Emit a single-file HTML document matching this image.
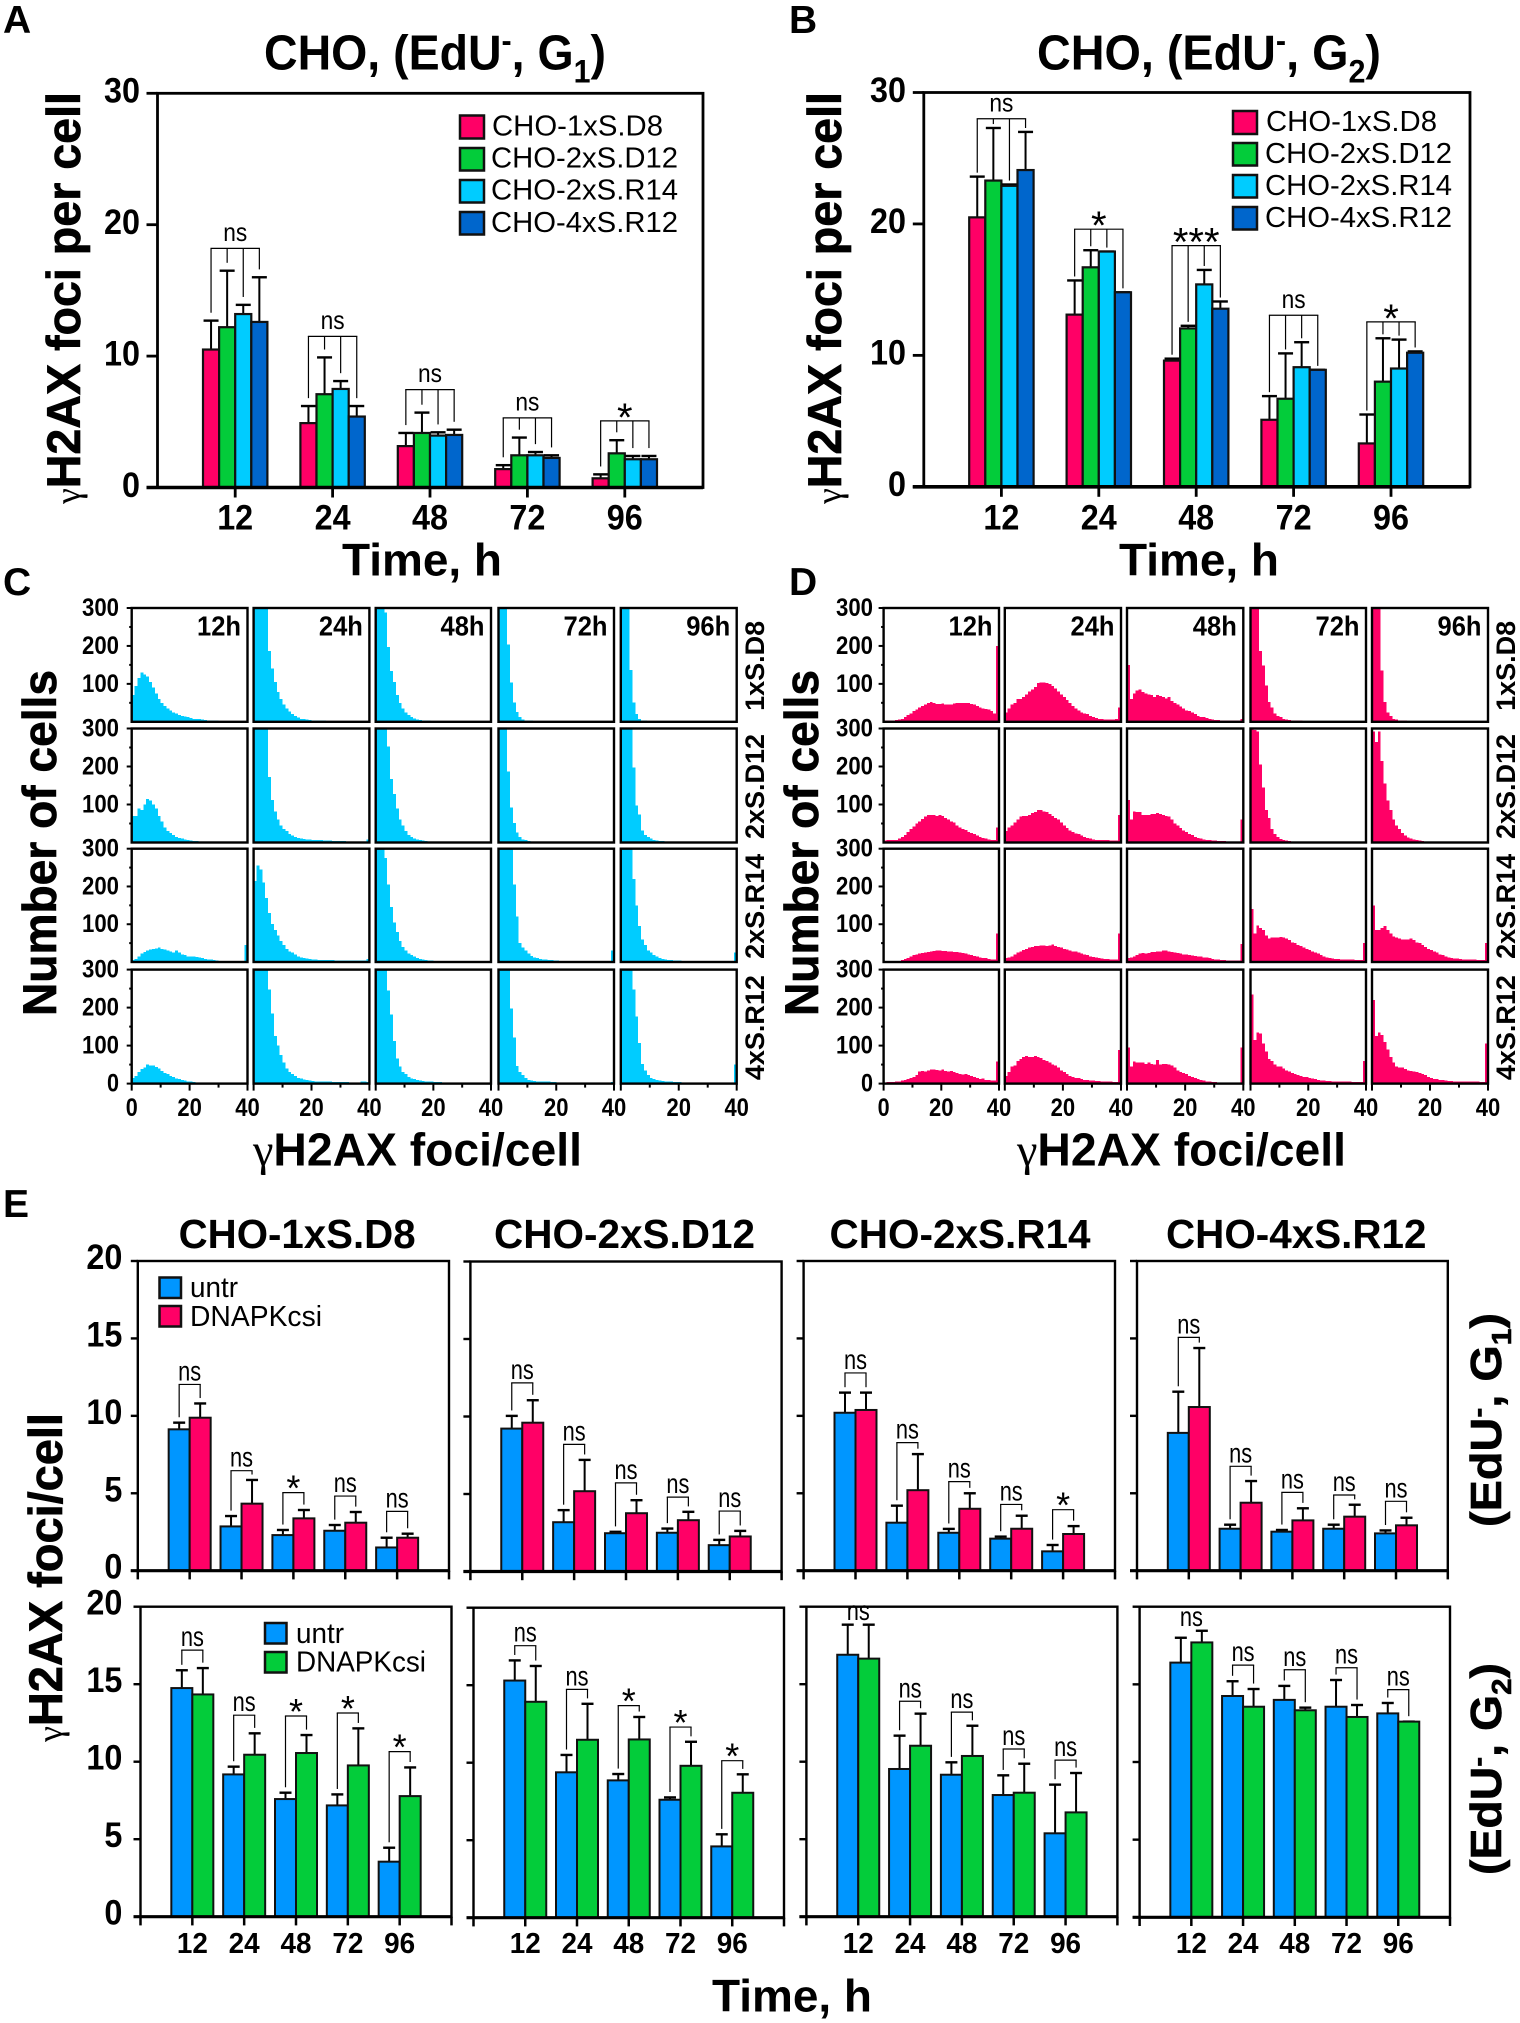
<!DOCTYPE html>
<html lang="en">
<head>
<meta charset="utf-8">
<title>CHO γH2AX foci figure</title>
<style>
html,body{margin:0;padding:0;background:#fff}
svg{display:block;font-family:"Liberation Sans",sans-serif}
</style>
</head>
<body>
<svg id="fig" xmlns="http://www.w3.org/2000/svg" width="1520" height="2023" viewBox="0 0 1520 2023">
<rect x="0" y="0" width="1520" height="2023" fill="#fff"/>

<g font-weight="700" font-size="39" fill="#000">
<text x="3" y="33">A</text>
<text x="789" y="33">B</text>
<text x="3" y="595">C</text>
<text x="789" y="595">D</text>
<text x="3" y="1217">E</text>
</g>

<text x="264" y="69.6" font-size="49" font-weight="700" textLength="342" lengthAdjust="spacingAndGlyphs">CHO, (EdU<tspan dy="-18" font-size="32">-</tspan><tspan dy="18">, G</tspan><tspan dy="13" font-size="32">1</tspan><tspan dy="-13">)</tspan></text>
<text x="1037" y="69.6" font-size="49" font-weight="700" textLength="344" lengthAdjust="spacingAndGlyphs">CHO, (EdU<tspan dy="-18" font-size="32">-</tspan><tspan dy="18">, G</tspan><tspan dy="13" font-size="32">2</tspan><tspan dy="-13">)</tspan></text>

<text transform="translate(80 504) rotate(-90)" font-size="47" font-weight="700" stroke="#000" stroke-width="0.7" textLength="412" lengthAdjust="spacingAndGlyphs"><tspan font-family="Liberation Serif" font-weight="400" font-size="36" stroke="none">γ</tspan>H2AX foci per cell</text>
<text transform="translate(841 504) rotate(-90)" font-size="47" font-weight="700" stroke="#000" stroke-width="0.7" textLength="412" lengthAdjust="spacingAndGlyphs"><tspan font-family="Liberation Serif" font-weight="400" font-size="36" stroke="none">γ</tspan>H2AX foci per cell</text>
<text x="342" y="575.6" font-size="45" font-weight="700" textLength="160" lengthAdjust="spacingAndGlyphs">Time, h</text>
<text x="1119" y="575.6" font-size="45" font-weight="700" textLength="160" lengthAdjust="spacingAndGlyphs">Time, h</text>

<text transform="translate(56 1016) rotate(-90)" font-size="47" font-weight="700" stroke="#000" stroke-width="0.7" textLength="346" lengthAdjust="spacingAndGlyphs">Number of cells</text>
<text transform="translate(818 1016) rotate(-90)" font-size="47" font-weight="700" stroke="#000" stroke-width="0.7" textLength="346" lengthAdjust="spacingAndGlyphs">Number of cells</text>
<text x="253" y="1165.5" font-size="46" font-weight="700" textLength="329" lengthAdjust="spacingAndGlyphs"><tspan font-family="Liberation Serif" font-weight="400">γ</tspan>H2AX foci/cell</text>
<text x="1017" y="1165.5" font-size="46" font-weight="700" textLength="329" lengthAdjust="spacingAndGlyphs"><tspan font-family="Liberation Serif" font-weight="400">γ</tspan>H2AX foci/cell</text>

<text transform="translate(62 1742) rotate(-90)" font-size="47" font-weight="700" stroke="#000" stroke-width="0.7" textLength="329" lengthAdjust="spacingAndGlyphs"><tspan font-family="Liberation Serif" font-weight="400" font-size="36" stroke="none">γ</tspan>H2AX foci/cell</text>
<text x="712" y="2011.7" font-size="45" font-weight="700" textLength="160" lengthAdjust="spacingAndGlyphs">Time, h</text>
<text transform="translate(1501 1527) rotate(-90)" font-size="44" font-weight="700" stroke="#000" stroke-width="0.6" textLength="214" lengthAdjust="spacingAndGlyphs">(EdU<tspan dy="-14" font-size="28">-</tspan><tspan dy="14">, G</tspan><tspan dy="10" font-size="28">1</tspan><tspan dy="-10">)</tspan></text>
<text transform="translate(1501 1875) rotate(-90)" font-size="44" font-weight="700" stroke="#000" stroke-width="0.6" textLength="212" lengthAdjust="spacingAndGlyphs">(EdU<tspan dy="-14" font-size="28">-</tspan><tspan dy="14">, G</tspan><tspan dy="10" font-size="28">2</tspan><tspan dy="-10">)</tspan></text>

<g font-size="41" font-weight="700">
<text x="178.6" y="1248" textLength="237" lengthAdjust="spacingAndGlyphs">CHO-1xS.D8</text>
<text x="494" y="1248" textLength="261" lengthAdjust="spacingAndGlyphs">CHO-2xS.D12</text>
<text x="829.5" y="1248" textLength="261" lengthAdjust="spacingAndGlyphs">CHO-2xS.R14</text>
<text x="1166" y="1248" textLength="260.5" lengthAdjust="spacingAndGlyphs">CHO-4xS.R12</text>
</g>

<g id="layer"></g>

<g stroke="#111" stroke-width="2.5">
<rect x="460" y="115.5" width="24" height="23" fill="#ff0066"/>
<rect x="460" y="148" width="24" height="22.5" fill="#03cc3a"/>
<rect x="460" y="180" width="24" height="22.5" fill="#00ccff"/>
<rect x="460" y="212" width="24" height="22.5" fill="#0066cc"/>
<g stroke="none" font-size="29">
<text x="492" y="135.4" textLength="171" lengthAdjust="spacingAndGlyphs">CHO-1xS.D8</text>
<text x="491" y="167.4" textLength="187" lengthAdjust="spacingAndGlyphs">CHO-2xS.D12</text>
<text x="491" y="199.4" textLength="187" lengthAdjust="spacingAndGlyphs">CHO-2xS.R14</text>
<text x="491" y="232" textLength="187" lengthAdjust="spacingAndGlyphs">CHO-4xS.R12</text>
</g>
</g>
<g stroke="#111" stroke-width="2.5">
<rect x="1233" y="111" width="24" height="23" fill="#ff0066"/>
<rect x="1233" y="143" width="24" height="22.5" fill="#03cc3a"/>
<rect x="1233" y="175" width="24" height="22.5" fill="#00ccff"/>
<rect x="1233" y="207" width="24" height="22.5" fill="#0066cc"/>
<g stroke="none" font-size="29">
<text x="1266" y="131" textLength="171" lengthAdjust="spacingAndGlyphs">CHO-1xS.D8</text>
<text x="1265" y="163" textLength="187" lengthAdjust="spacingAndGlyphs">CHO-2xS.D12</text>
<text x="1265" y="195" textLength="187" lengthAdjust="spacingAndGlyphs">CHO-2xS.R14</text>
<text x="1265" y="227" textLength="187" lengthAdjust="spacingAndGlyphs">CHO-4xS.R12</text>
</g>
</g>
<g stroke="#111" stroke-width="2.5">
<rect x="159.5" y="1277.5" width="21.5" height="20.5" fill="#0096ff"/>
<rect x="159.5" y="1306" width="21.5" height="20.5" fill="#ff0066"/>
<g stroke="none" font-size="29">
<text x="190" y="1297" textLength="48" lengthAdjust="spacingAndGlyphs">untr</text>
<text x="190" y="1326" textLength="132" lengthAdjust="spacingAndGlyphs">DNAPKcsi</text>
</g>
</g>
<g stroke="#111" stroke-width="2.5">
<rect x="265" y="1623" width="21.5" height="20.5" fill="#0096ff"/>
<rect x="265" y="1652" width="21.5" height="20.5" fill="#03cc3a"/>
<g stroke="none" font-size="29">
<text x="296" y="1643" textLength="48" lengthAdjust="spacingAndGlyphs">untr</text>
<text x="296" y="1671.7" textLength="130" lengthAdjust="spacingAndGlyphs">DNAPKcsi</text>
</g>
</g>
</svg>

<script>
/* ---------- shared categories ---------- */
const timeCategories = ['12','24','48','72','96'];
const abYTicks = [0,10,20,30];
const eYTicks = [0,5,10,15,20];
const histYTickLabels = [100,200,300];
const histTimes = ['12h','24h','48h','72h','96h'];
const histStrains = ['1xS.D8','2xS.D12','2xS.R14','4xS.R12'];

/* ---------- panel A ---------- */
const aD8 = [10.5,4.9,3.15,1.4,0.7];
const aD8Err = [12.7,6.2,4.15,1.7,1.0];
const aD12 = [12.2,7.1,4.15,2.45,2.6];
const aD12Err = [16.5,9.9,5.7,3.8,3.6];
const aR14 = [13.2,7.5,3.95,2.45,2.15];
const aR14Err = [13.9,8.1,4.2,2.7,2.4];
const aR12 = [12.6,5.4,4.0,2.25,2.15];
const aR12Err = [16.0,6.2,4.4,2.45,2.4];
const aBracket = [18.2,11.5,7.45,5.3,5.07];
const aSig = ['ns','ns','ns','ns','*'];

/* ---------- panel B ---------- */
const bD8 = [20.5,13.1,9.6,5.1,3.3];
const bD8Err = [23.6,15.7,9.75,6.9,5.5];
const bD12 = [23.3,16.7,12.05,6.7,8.0];
const bD12Err = [27.3,18.0,12.25,10.15,11.3];
const bR14 = [22.9,17.9,15.4,9.1,9.0];
const bR14Err = [23.0,17.9,16.5,11.0,11.2];
const bR12 = [24.1,14.8,13.55,8.9,10.2];
const bR12Err = [27.0,14.8,14.1,8.9,10.3];
const bBracket = [28.0,19.6,18.35,13.05,12.55];
const bSig = ['ns','*','***','ns','*'];

/* ---------- panel C histograms (cells per 1-focus bin) ---------- */
const cD8h12 = [70,95,115,130,125,120,105,90,75,60,50,42,35,30,25,22,18,15,14,12,10,8,8,7,6,5,4,4,3,3,2,2,2,2,1,1,1,1,1,1];
const cD8h24 = [400,400,400,400,400,187,140,105,78,60,45,35,27,20,15,11,8,7,6,5,4,4,3,3,3,2,2,2,2,2,2,2,2,2,2,2,2,2,2,2];
const cD8h48 = [400,400,400,288,197,134,105,70,50,35,25,18,12,9,6,5,4,3,3,2,2,2,2,2,2,2,1,1,1,1,1,1,1,1,1,1,1,1,1,1];
const cD8h72 = [400,400,400,204,104,51,26,12,6,4,3,3,2,2,2,2,2,2,2,2,2,2,2,2,2,2,2,2,1,1,1,1,1,1,1,1,1,1,1,1];
const cD8h96 = [400,400,400,137,51,21,8,4,3,2,2,2,2,2,2,1,1,1,1,1,1,1,1,1,1,1,1,1,1,1,1,1,1,1,1,1,1,1,1,1];
const cD12h12 = [70,70,90,85,100,115,110,100,90,70,55,40,30,25,20,15,12,10,8,6,5,4,4,3,3,2,2,2,2,1,1,1,1,1,1,1,1,1,1,1];
const cD12h24 = [400,400,400,400,400,172,112,81,60,45,35,30,22,18,15,12,10,9,8,8,7,7,6,6,5,5,5,4,4,4,4,4,3,3,3,3,3,3,3,8];
const cD12h48 = [400,400,400,400,253,167,127,90,61,45,30,20,15,10,8,6,5,4,3,3,3,2,2,2,2,2,2,2,2,2,1,1,1,1,1,1,1,1,1,1];
const cD12h72 = [400,400,400,187,92,51,26,15,8,6,4,3,3,3,2,2,2,2,2,2,2,2,2,2,2,1,1,1,1,1,1,1,1,1,1,1,1,1,1,1];
const cD12h96 = [400,400,400,400,197,97,74,31,20,14,10,7,5,4,4,3,3,3,3,2,2,2,2,2,2,2,2,2,1,1,1,1,1,1,1,1,1,1,1,1];
const cR14h12 = [5,8,15,22,26,30,33,35,36,38,35,33,30,28,25,30,25,20,18,15,15,14,13,12,10,8,7,6,5,4,3,3,2,2,2,2,2,2,2,45];
const cR14h24 = [215,255,245,210,170,130,100,85,70,55,45,35,28,25,20,15,12,10,9,8,7,6,5,5,5,5,5,5,4,4,4,4,4,4,4,4,4,4,4,8];
const cR14h48 = [400,400,400,275,205,145,105,80,55,40,30,22,18,14,10,8,6,5,4,4,3,3,3,3,2,2,2,2,2,2,2,2,2,2,2,2,1,1,1,3];
const cR14h72 = [400,400,400,400,400,205,120,50,38,30,22,16,12,10,8,7,6,5,5,4,4,3,3,3,3,3,3,3,3,2,2,2,2,2,2,2,2,2,2,30];
const cR14h96 = [400,400,400,400,220,150,95,60,45,30,25,18,14,10,8,6,5,5,4,4,4,3,3,3,3,3,3,3,3,3,3,3,2,2,2,2,2,2,2,25];
const cR12h12 = [15,20,30,38,42,50,48,47,44,40,33,28,25,20,17,14,12,10,8,6,5,4,3,3,2,2,2,2,2,1,1,1,1,1,1,1,1,1,1,2];
const cR12h24 = [400,400,400,400,350,248,185,125,100,75,55,40,30,25,20,15,13,11,9,8,7,6,6,5,5,5,5,4,4,4,4,4,4,3,3,3,3,5,5,4];
const cR12h48 = [400,400,400,400,245,182,112,66,45,30,25,18,14,12,10,8,7,6,5,5,4,4,4,3,3,3,3,3,3,3,3,2,2,2,2,2,2,2,2,3];
const cR12h72 = [400,400,400,400,197,121,46,30,22,15,10,8,7,6,6,5,5,5,4,4,3,3,3,3,3,3,3,3,3,3,3,2,2,2,2,2,2,2,2,4];
const cR12h96 = [400,400,400,400,248,177,107,51,35,22,15,12,10,8,7,6,5,5,4,4,4,3,3,3,3,3,3,3,3,3,2,2,2,2,2,2,2,2,2,50];

/* ---------- panel D histograms ---------- */
const dD8h12 = [3,3,4,4,5,6,8,12,18,22,28,32,38,42,45,50,52,50,47,47,48,46,45,46,48,50,49,49,50,50,47,45,42,38,35,34,32,28,22,200];
const dD8h24 = [25,35,45,50,60,60,65,72,80,85,92,102,103,103,102,100,95,88,80,72,65,58,50,42,35,30,25,22,20,15,12,10,8,7,6,6,6,6,8,38];
const dD8h48 = [150,60,75,82,85,78,75,72,70,65,70,68,65,62,65,55,50,45,40,35,30,28,25,20,15,13,12,10,8,6,5,5,4,4,4,4,3,3,3,8];
const dD8h72 = [400,400,380,186,149,96,52,38,22,15,12,8,6,5,4,3,3,3,2,2,2,2,2,2,2,2,2,2,2,2,2,2,2,2,2,2,2,2,2,2];
const dD8h96 = [400,400,350,135,52,25,15,8,6,4,3,3,2,2,2,2,2,2,2,2,2,2,2,2,2,2,2,2,2,2,2,2,2,2,1,1,1,1,1,1];
const dD12h12 = [5,6,6,7,7,10,14,20,27,35,42,50,55,62,68,72,73,72,70,72,70,65,60,55,52,45,40,35,33,28,25,22,18,15,12,10,8,7,6,40];
const dD12h24 = [30,40,45,52,60,68,70,70,72,78,80,85,86,82,80,75,70,65,60,52,45,38,32,28,24,22,18,15,12,10,8,7,7,6,6,6,5,5,5,72];
const dD12h48 = [112,60,82,80,80,72,72,72,75,75,78,75,72,70,68,60,50,45,38,32,28,22,20,15,12,10,8,7,6,5,5,4,4,4,3,3,3,3,3,60];
const dD12h72 = [300,296,292,205,145,85,65,35,22,14,9,7,5,4,3,3,3,2,2,2,2,2,2,2,2,2,2,2,2,2,2,2,2,2,2,2,2,2,2,2];
const dD12h96 = [292,265,292,215,155,110,85,60,45,35,25,18,13,10,8,6,5,4,3,3,2,2,2,2,2,2,2,2,2,2,2,2,2,2,2,2,1,1,1,1];
const dR14h12 = [2,2,2,2,2,3,5,8,10,14,18,20,22,24,25,26,28,29,30,30,29,29,28,28,27,26,25,24,22,20,18,16,14,12,11,10,8,7,6,75];
const dR14h24 = [10,12,15,20,25,28,32,35,38,40,42,42,44,44,43,44,46,42,40,38,35,33,30,28,28,25,22,20,18,15,13,12,10,9,8,8,7,6,6,75];
const dR14h48 = [10,12,15,18,22,24,22,24,26,27,28,28,30,30,28,27,25,24,22,20,20,18,17,16,15,14,12,12,10,8,7,6,5,5,4,4,4,4,4,48];
const dR14h72 = [140,75,97,90,85,70,62,65,65,65,66,65,62,58,52,50,45,42,38,35,32,28,25,22,18,14,12,10,9,8,8,7,7,6,6,6,5,5,5,50];
const dR14h96 = [150,85,85,90,95,85,75,68,65,62,60,60,60,62,58,52,50,45,40,35,32,28,25,20,18,15,12,10,9,9,8,7,7,6,6,6,5,5,5,50];
const dR12h12 = [3,4,4,4,5,6,8,10,12,15,18,22,32,33,32,35,37,37,36,35,37,33,32,33,30,28,25,24,25,22,20,18,15,12,13,10,9,8,8,58];
const dR12h24 = [20,30,45,48,60,65,70,72,70,70,72,70,68,62,60,55,50,48,42,35,30,25,20,18,15,15,12,10,9,8,8,7,7,6,6,5,5,4,4,88];
const dR12h48 = [95,45,58,55,55,55,52,55,52,50,62,50,52,52,50,48,42,35,30,28,25,20,18,15,12,10,8,6,5,4,4,3,3,3,3,3,3,2,2,95];
const dR12h72 = [235,115,135,132,105,85,65,60,50,45,45,40,35,32,28,25,22,20,18,17,15,13,12,10,8,8,7,7,6,6,5,5,5,5,5,4,4,4,4,60];
const dR12h96 = [220,125,135,128,110,90,70,55,45,42,42,38,35,33,32,30,28,25,22,18,15,12,12,10,9,8,7,7,6,6,6,5,5,5,5,5,5,4,4,105];

/* ---------- panel E, G1 row ---------- */
const e1Untr = [9.13,2.86,2.3,2.58,1.5];
const e1UntrErr = [9.56,3.53,2.63,2.95,2.13];
const e1Drug = [9.88,4.33,3.38,3.1,2.13];
const e1DrugErr = [10.8,5.86,3.92,3.79,2.39];
const e1Bracket = [12.03,6.46,5.04,4.82,3.83];
const e1Sig = ['ns','ns','*','ns','ns'];
const e2Untr = [9.22,3.18,2.47,2.5,1.7];
const e2UntrErr = [10.04,3.96,2.56,2.77,2.04];
const e2Drug = [9.6,5.18,3.76,3.31,2.26];
const e2DrugErr = [11.05,7.2,4.6,3.85,2.62];
const e2Bracket = [12.17,8.2,5.72,4.8,3.9];
const e2Sig = ['ns','ns','ns','ns','ns'];
const e3Untr = [10.2,3.1,2.45,2.07,1.25];
const e3UntrErr = [11.5,4.2,2.7,2.2,1.66];
const e3Drug = [10.38,5.2,4.0,2.71,2.37];
const e3DrugErr = [11.5,7.53,5.0,3.55,2.88];
const e3Bracket = [12.77,8.27,5.75,4.28,3.94];
const e3Sig = ['ns','ns','ns','ns','*'];
const e4Untr = [8.9,2.71,2.52,2.71,2.41];
const e4UntrErr = [11.56,2.97,2.63,2.97,2.6];
const e4Drug = [10.57,4.39,3.25,3.49,2.93];
const e4DrugErr = [14.38,5.79,4.03,4.26,3.42];
const e4Bracket = [15.07,6.74,5.06,4.89,4.48];
const e4Sig = ['ns','ns','ns','ns','ns'];

/* ---------- panel E, G2 row ---------- */
const f1Untr = [14.75,9.18,7.59,7.18,3.55];
const f1UntrErr = [15.9,9.68,8.0,7.89,4.45];
const f1Drug = [14.34,10.45,10.56,9.76,7.78];
const f1DrugErr = [16.04,11.83,11.72,12.15,9.63];
const f1Bracket = [17.2,13.0,12.95,13.14,10.65];
const f1Sig = ['ns','ns','*','*','*'];
const f2Untr = [15.3,9.38,8.86,7.61,4.6];
const f2UntrErr = [16.6,10.5,9.27,7.76,5.38];
const f2Drug = [13.93,11.48,11.5,9.8,8.06];
const f2DrugErr = [16.24,13.8,12.95,11.35,9.25];
const f2Bracket = [17.55,14.73,13.68,12.3,10.13];
const f2Sig = ['ns','ns','*','*','*'];
const f3Untr = [16.9,9.53,9.16,7.85,5.38];
const f3UntrErr = [18.84,11.68,9.96,9.12,8.52];
const f3Drug = [16.65,11.03,10.37,8.0,6.73];
const f3DrugErr = [18.84,13.1,12.32,9.87,9.27];
const f3Bracket = [null,13.9,13.2,10.82,10.1];
const f3Sig = ['ns','ns','ns','ns','ns'];
const f4Untr = [16.4,14.25,14.0,13.56,13.13];
const f4UntrErr = [18.0,15.2,14.9,15.28,13.8];
const f4Drug = [17.7,13.56,13.33,12.9,12.6];
const f4DrugErr = [18.45,14.7,13.5,13.67,12.6];
const f4Bracket = [null,16.24,15.94,16.07,14.66];
const f4Sig = ['ns','ns','ns','ns','ns'];

/* ---------- drawing ---------- */
const NS = 'http://www.w3.org/2000/svg';
const layer = document.getElementById('layer');
const COLORS = {pink:'#ff0066',green:'#03cc3a',cyan:'#00ccff',blue:'#0066cc',sky:'#0096ff'};

function svgEl(tag, parent, props){
  const el = document.createElementNS(NS, tag);
  for (const k in props) el.setAttribute(k, props[k]);
  parent.appendChild(el);
  return el;
}
function drawLine(parent,x1,y1,x2,y2,w){
  return svgEl('line',parent,{x1:x1,y1:y1,x2:x2,y2:y2,stroke:'#000','stroke-width':w});
}
function drawText(parent,str,x,y,size,o){
  o = o || {};
  const t = svgEl('text',parent,{x:x,y:y,'font-size':size,'text-anchor':o.anchor||'middle','font-weight':o.weight||400,fill:'#000'});
  if (o.len){ t.setAttribute('textLength',o.len); t.setAttribute('lengthAdjust','spacingAndGlyphs'); }
  if (o.rot){ t.setAttribute('transform','rotate(-90 '+x+' '+y+')'); }
  t.textContent = str;
  return t;
}
function newGroup(parent,label){
  const g = document.createElementNS(NS,'g');
  
  
  parent.appendChild(g);
  return g;
}

/* Grouped bar panel with error bars and significance brackets */
function drawBarPanel(cfg){
  const g = newGroup(layer,cfg.name);
  const yOf = v => cfg.bottom-(v/cfg.max)*(cfg.bottom-cfg.top);
  const xOf = i => cfg.x0+i*cfg.step;
  const n = cfg.series.length;

  /* brackets */
  cfg.brackets.forEach((b,i)=>{
    const cx = xOf(i);
    const xs = cfg.series.map((s,j)=>cx+(j-(n-1)/2)*cfg.barW);
    if (b!==null){
      const by = yOf(b);
      const bracket = newGroup(g,'significance-bracket');
      drawLine(bracket,xs[0]-0.6,by,xs[n-1]+0.6,by,1.2);
      cfg.series.forEach((s,j)=>{
        drawLine(bracket,xs[j],by,xs[j],Math.max(by,yOf(s.err[i]+cfg.legGap)),1.2);
      });
    }
    const mark = cfg.sig[i];
    let t;
    if (mark==='ns'){
      const baseY = b!==null ? yOf(b)-cfg.nsGap : yOf(Math.max.apply(null,cfg.series.map(s=>s.err[i]))+0.3);
      t = drawText(g,'ns',cx,baseY,cfg.nsSize,{len:cfg.nsLen});
    } else {
      t = drawText(g,mark,cx,yOf(b)+cfg.starGap,cfg.starSize);
    }
    
    
  });

  /* error bars then bars */
  cfg.series.forEach((s,j)=>{
    s.mean.forEach((v,i)=>{
      const bx = xOf(i)+(j-n/2)*cfg.barW;
      const mid = bx+cfg.barW/2;
      const errG = newGroup(g,'error-bar');
      drawLine(errG,mid,yOf(v),mid,yOf(s.err[i]),2);
      drawLine(errG,mid-cfg.cap/2,yOf(s.err[i]),mid+cfg.cap/2,yOf(s.err[i]),2.4);
      const bar = svgEl('rect',g,{x:bx,y:yOf(v),width:cfg.barW,height:cfg.bottom-yOf(v),fill:s.color,stroke:'#111','stroke-width':cfg.barStroke});
      
      
    });
  });

  /* frame and axes */
  const frame = svgEl('rect',g,{x:cfg.left,y:cfg.top,width:cfg.right-cfg.left,height:cfg.bottom-cfg.top,fill:'none',stroke:'#000','stroke-width':cfg.frame});
  
  
  const base = drawLine(g,cfg.left-cfg.yTick,cfg.bottom,cfg.right,cfg.bottom,cfg.frame+0.8);
  
  

  cfg.yTicks.forEach(v=>{
    const tick = drawLine(g,cfg.left-cfg.yTick,yOf(v),cfg.left,yOf(v),cfg.frame);
    
    
    if (cfg.showYLabels){
      const lab = drawText(g,String(v),cfg.yLabelRight,yOf(v)+cfg.yLabelDy,cfg.tickSize,{anchor:'end',weight:700,len:v<10?cfg.tickLen/2:cfg.tickLen});
      
      
    }
  });
  if (cfg.outerXTicks){
    const w = (cfg.right-cfg.left)/6;
    for (let k=0;k<=6;k++){
      const tx = cfg.left+k*w;
      const tick = drawLine(g,tx,cfg.bottom,tx,cfg.bottom+cfg.xTick,2.5);
      
      
    }
  } else {
    timeCategories.forEach((c,i)=>{
      const tick = drawLine(g,xOf(i),cfg.bottom,xOf(i),cfg.bottom+cfg.xTick,2.8);
      
      
    });
  }
  if (cfg.showXLabels){
    timeCategories.forEach((c,i)=>{
      const lab = drawText(g,c,xOf(i),cfg.xLabelY,cfg.xTickSize,{weight:700,len:cfg.xTickLen});
      
      
    });
  }
}

const abCommon = {max:30,step:97.4,barW:16.1,cap:15,barStroke:2.2,frame:2.8,yTick:11,xTick:10,yTicks:abYTicks,
  showYLabels:true,showXLabels:true,yLabelDy:9.3,tickSize:35,tickLen:36,xLabelY:529.3,xTickSize:35,xTickLen:36,
  nsSize:26,nsLen:24,nsGap:7.5,starSize:40,starGap:10};

drawBarPanel(Object.assign({},abCommon,{name:'panel-a-chart',left:157.5,right:703,top:93.3,bottom:487.5,x0:235.2,yLabelRight:140,legGap:0.6,
  series:[{mean:aD8,err:aD8Err,color:COLORS.pink},{mean:aD12,err:aD12Err,color:COLORS.green},{mean:aR14,err:aR14Err,color:COLORS.cyan},{mean:aR12,err:aR12Err,color:COLORS.blue}],
  brackets:aBracket,sig:aSig}));
drawBarPanel(Object.assign({},abCommon,{name:'panel-b-chart',left:923.8,right:1470,top:92.5,bottom:486.8,x0:1001.4,yLabelRight:906,legGap:0.3,
  series:[{mean:bD8,err:bD8Err,color:COLORS.pink},{mean:bD12,err:bD12Err,color:COLORS.green},{mean:bR14,err:bR14Err,color:COLORS.cyan},{mean:bR12,err:bR12Err,color:COLORS.blue}],
  brackets:bBracket,sig:bSig}));

/* Histogram grids */
const histRowTop = [608,728.5,848.7,969.6];
const histRowBottom = [721.8,842.5,962,1083.6];

function drawHistGrid(cfg){
  const root = newGroup(layer,cfg.name);
  cfg.data.forEach((row,r)=>{
    const top = histRowTop[r], bottom = histRowBottom[r];
    const yOf = v => bottom-(Math.min(v,300)/300)*(bottom-top);
    row.forEach((bins,c)=>{
      const left = cfg.colLeft[c], right = cfg.colRight[c];
      const xOf = v => left+(v/40)*(right-left);
      const g = newGroup(root,'histogram-'+histStrains[r].toLowerCase().replace('.','-')+'-'+histTimes[c]);
      bins.forEach((v,i)=>{
        const bin = svgEl('rect',g,{x:xOf(i),y:yOf(v),width:xOf(i+1)-xOf(i),height:bottom-yOf(v),fill:cfg.color,'shape-rendering':'crispEdges'});
        
        
      });
      const frame = svgEl('rect',g,{x:left,y:top,width:right-left,height:bottom-top,fill:'none',stroke:'#000','stroke-width':2.4});
      
      
      if (r===0){
        const lab = drawText(g,histTimes[c],right-6.5,635.5,28,{anchor:'end',weight:700,len:44});
        
        
      }
      if (r===3){
        [0,10,20,30,40].forEach(v=>{
          const tick = drawLine(g,xOf(v),bottom,xOf(v),bottom+(v%20===0?7:4),2);
          
          
        });
        [0,20,40].forEach(v=>{
          if (v===0 && c>0) return;
          const lab = drawText(g,String(v),xOf(v),1115.8,25,{weight:700,len:v===0?12:24.5});
          
          
        });
      }
    });
    const axisX = cfg.colLeft[0];
    const yOfAxis = yOf;
    [50,100,150,200,250,300].forEach(v=>{
      const major = v%100===0;
      const tick = drawLine(root,axisX-(major?5:2.5),yOfAxis(v),axisX,yOfAxis(v),2);
      
      
    });
    histYTickLabels.forEach(v=>{
      const lab = drawText(root,String(v),cfg.yLabelRight,yOfAxis(v)+8,25,{anchor:'end',weight:700,len:37});
      
      
    });
    if (r===3){
      const zero = drawText(root,'0',cfg.yLabelRight,yOfAxis(0)+8,25,{anchor:'end',weight:700,len:12});
      
      
      const tick0 = drawLine(root,axisX-5,yOfAxis(0),axisX,yOfAxis(0),2);
      
      
    }
    const rowLab = drawText(root,histStrains[r],cfg.rowLabelX,(top+bottom)/2+1,27,{weight:700,rot:true});
    
    
  });
}

const cGridData = [
  [cD8h12,cD8h24,cD8h48,cD8h72,cD8h96],
  [cD12h12,cD12h24,cD12h48,cD12h72,cD12h96],
  [cR14h12,cR14h24,cR14h48,cR14h72,cR14h96],
  [cR12h12,cR12h24,cR12h48,cR12h72,cR12h96]
];
const dGridData = [
  [dD8h12,dD8h24,dD8h48,dD8h72,dD8h96],
  [dD12h12,dD12h24,dD12h48,dD12h72,dD12h96],
  [dR14h12,dR14h24,dR14h48,dR14h72,dR14h96],
  [dR12h12,dR12h24,dR12h48,dR12h72,dR12h96]
];
drawHistGrid({name:'panel-c-histograms',data:cGridData,color:COLORS.cyan,
  colLeft:[131.7,253.6,375.7,498.5,620.8],colRight:[247.5,369.4,491,614,736.7],yLabelRight:119,rowLabelX:764});
drawHistGrid({name:'panel-d-histograms',data:dGridData,color:COLORS.pink,
  colLeft:[883.6,1004.8,1127,1250.5,1372],colRight:[999,1121,1243.3,1366,1488],yLabelRight:873,rowLabelX:1515});

/* Panel E small multiples */
const eCommon = {max:20,barW:21,cap:12,barStroke:2,frame:2.4,yTick:7,xTick:8.7,yTicks:eYTicks,outerXTicks:true,
  yLabelDy:8,yLabelRight:122.4,tickSize:35,tickLen:36,xLabelY:1953,xTickSize:29,xTickLen:31,
  nsSize:28,nsLen:23,nsGap:4,starSize:36,starGap:8,legGap:0.35};
function ePanel(name,left,right,top,bottom,first,bottomRow,drugColor,untr,untrErr,drug,drugErr,brackets,sig){
  const w = (right-left)/6;
  drawBarPanel(Object.assign({},eCommon,{name:name,left:left,right:right,top:top,bottom:bottom,x0:left+w,step:w,
    showYLabels:first,showXLabels:bottomRow,
    series:[{mean:untr,err:untrErr,color:COLORS.sky},{mean:drug,err:drugErr,color:drugColor}],
    brackets:brackets,sig:sig}));
}
ePanel('panel-e-1xs-d8-g1',137.8,449,1261,1570.7,true,false,COLORS.pink,e1Untr,e1UntrErr,e1Drug,e1DrugErr,e1Bracket,e1Sig);
ePanel('panel-e-2xs-d12-g1',470.4,781.6,1261.5,1571.5,false,false,COLORS.pink,e2Untr,e2UntrErr,e2Drug,e2DrugErr,e2Bracket,e2Sig);
ePanel('panel-e-2xs-r14-g1',803.6,1115,1261,1570.7,false,false,COLORS.pink,e3Untr,e3UntrErr,e3Drug,e3DrugErr,e3Bracket,e3Sig);
ePanel('panel-e-4xs-r12-g1',1137,1447.8,1261,1570.7,false,false,COLORS.pink,e4Untr,e4UntrErr,e4Drug,e4DrugErr,e4Bracket,e4Sig);
ePanel('panel-e-1xs-d8-g2',140.5,451.5,1606.7,1916.7,true,true,COLORS.green,f1Untr,f1UntrErr,f1Drug,f1DrugErr,f1Bracket,f1Sig);
ePanel('panel-e-2xs-d12-g2',473.5,784,1607.7,1917.7,false,true,COLORS.green,f2Untr,f2UntrErr,f2Drug,f2DrugErr,f2Bracket,f2Sig);
ePanel('panel-e-2xs-r14-g2',806.4,1117.4,1606.7,1916.7,false,true,COLORS.green,f3Untr,f3UntrErr,f3Drug,f3DrugErr,f3Bracket,f3Sig);
ePanel('panel-e-4xs-r12-g2',1139.6,1450,1606.7,1917.3,false,true,COLORS.green,f4Untr,f4UntrErr,f4Drug,f4DrugErr,f4Bracket,f4Sig);
</script>
</body>
</html>
